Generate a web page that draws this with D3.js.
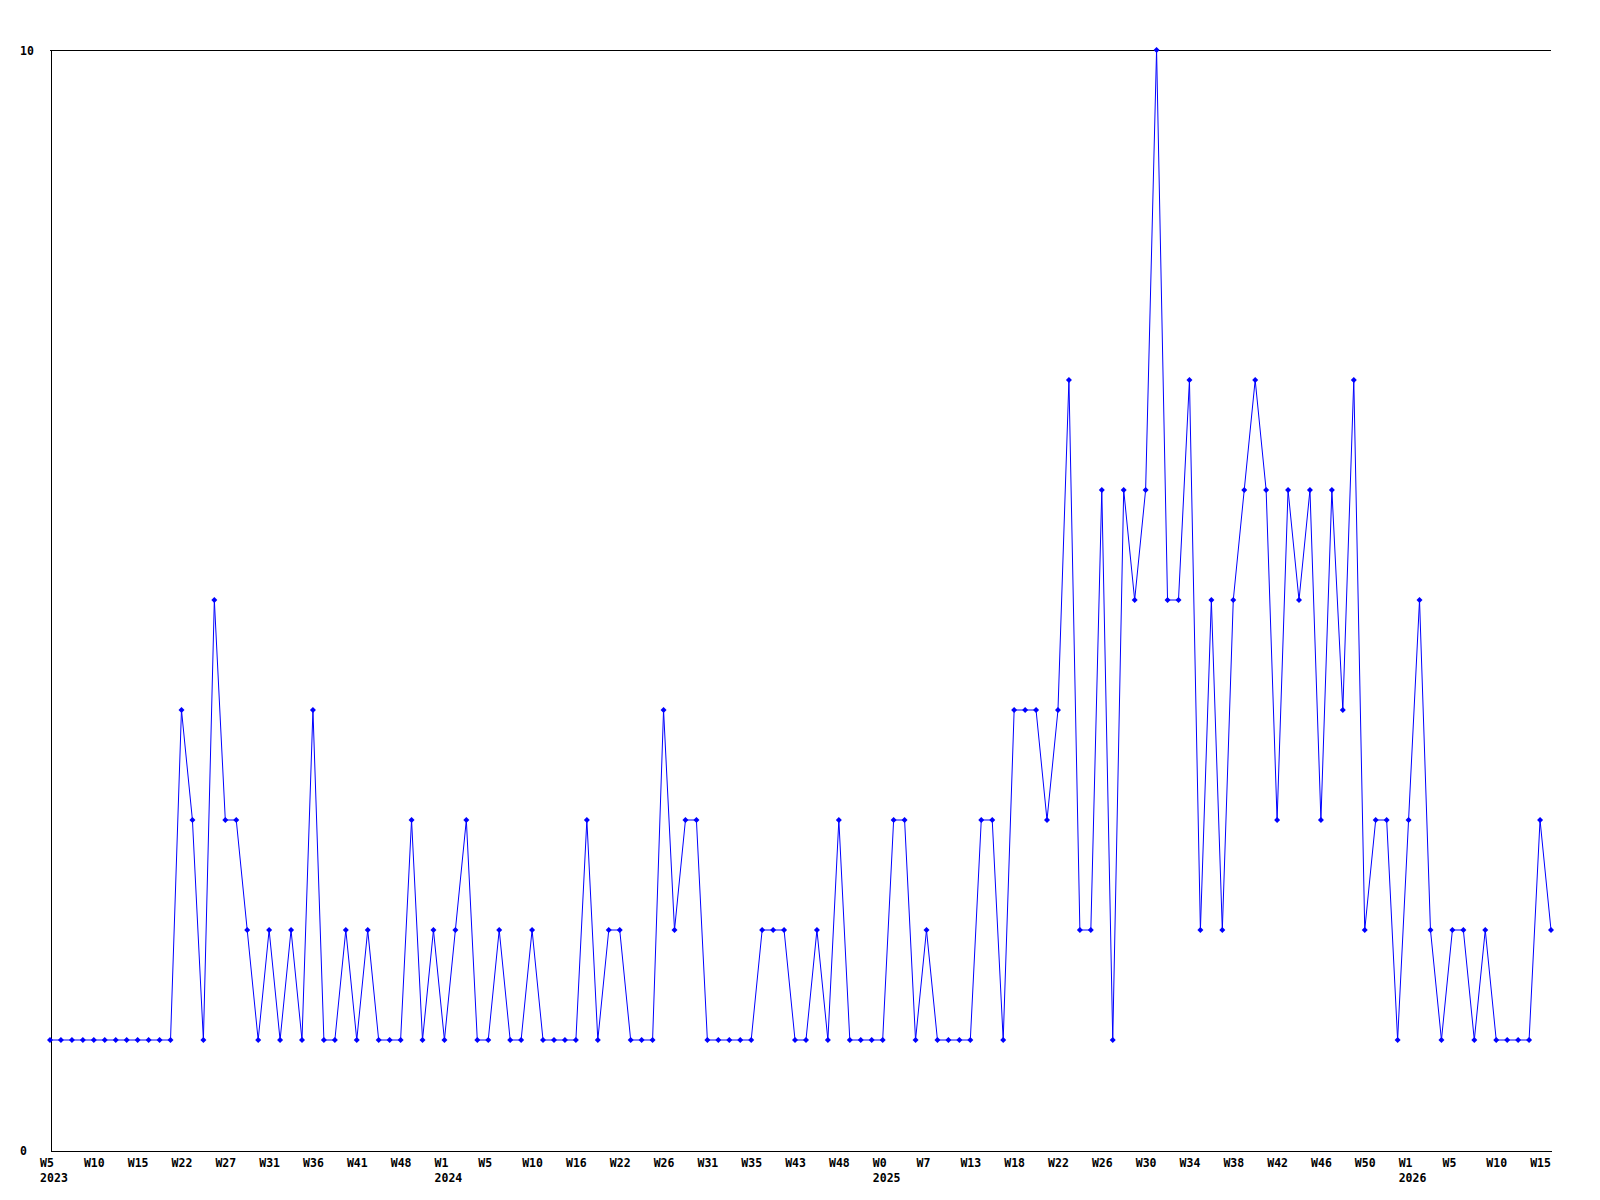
<!DOCTYPE html>
<html><head><meta charset="utf-8">
<script src="https://cdn.jsdelivr.net/npm/d3@7"></script>
<style>body{margin:0;background:#fff} svg{display:block}</style>
</head><body>
<svg id="chart" width="1600" height="1200"></svg>
<script>
// weekly values, one per point (138 points)
const values = [
  1,1,1,1,1,1,1,1,1,1,1,1,
  4,3,1,5,3,3,2,1,2,1,2,1,
  4,1,1,2,1,2,1,1,1,3,1,2,
  1,2,3,1,1,2,1,1,2,1,1,1,
  1,3,1,2,2,1,1,1,4,2,3,3,
  1,1,1,1,1,2,2,2,1,1,2,1,
  3,1,1,1,1,3,3,1,2,1,1,1,
  1,3,3,1,4,4,4,3,4,7,2,2,
  6,1,6,5,6,10,5,5,7,2,5,2,
  5,6,7,6,3,6,5,6,3,6,4,7,
  2,3,3,1,3,5,2,1,2,2,1,2,
  1,1,1,1,3,2
];
// labels shown on every 4th point
const tickLabels = ["W5","W10","W15","W22","W27","W31","W36","W41","W48","W1","W5","W10","W16","W22","W26","W31","W35","W43","W48","W0","W7","W13","W18","W22","W26","W30","W34","W38","W42","W46","W50","W1","W5","W10","W15"];
const labelStep = 4;
const yearTickIndex = [0, 9, 19, 31];
const yearLabels = ["2023","2024","2025","2026"];
const yTicks = [0, 10];

(function () {
const svg = d3.select("#chart");
const mLeft = 50, mRight = 1551, mTop = 50, mBottom = 1150;
const FONT = "'DejaVu Sans Mono', monospace";

const x = d3.scaleLinear().domain([0, values.length - 1]).range([mLeft, mRight]);
const y = d3.scaleLinear().domain([0, 10]).range([mBottom, mTop]);

// grid line at top tick
svg.append("g").selectAll("line").data(yTicks.filter(t => t > 0)).join("line")
  .attr("x1", mLeft).attr("x2", mRight)
  .attr("y1", d => y(d) + 0.5).attr("y2", d => y(d) + 0.5)
  .attr("stroke", "#000").attr("stroke-width", 1).attr("shape-rendering", "crispEdges");

// x axis
const tickIdx = d3.range(0, values.length, labelStep).slice(0, tickLabels.length);
const xAxis = d3.axisBottom(x).tickValues(tickIdx).tickSize(0).tickSizeOuter(0)
  .tickFormat((d, i) => tickLabels[i]);
const gx = svg.append("g").attr("transform", `translate(0,${mBottom + 0.5})`).call(xAxis);
gx.select(".domain").attr("stroke", "#000").attr("shape-rendering", "crispEdges");
gx.selectAll("text")
  .attr("font-family", FONT).attr("font-size", "11.5px").attr("font-weight", "bold")
  .attr("fill", "#000");

// measure a 3-char cell width for alignment
const probe = svg.append("text").attr("font-family", FONT).attr("font-size", "11.5px")
  .attr("font-weight", "bold").text("W00");
const cellW = probe.node().getComputedTextLength();
probe.remove();

gx.selectAll(".tick text").each(function(d, i) {
  const t = d3.select(this);
  t.attr("text-anchor", "start").attr("x", -cellW / 2).attr("y", 16).attr("dy", null);
  const yi = yearTickIndex.indexOf(i);
  t.text(null);
  t.append("tspan").attr("x", -cellW / 2).attr("y", 16).text(tickLabels[i]);
  if (yi >= 0) {
    t.append("tspan").attr("x", -cellW / 2).attr("y", 31).text(yearLabels[yi]);
  }
});

// y axis
const yAxis = d3.axisLeft(y).tickValues(yTicks).tickSize(0).tickSizeOuter(0).tickFormat(d3.format("d"));
const gy = svg.append("g").attr("transform", `translate(${mLeft + 0.5},0)`).call(yAxis);
gy.select(".domain").attr("stroke", "#000").attr("shape-rendering", "crispEdges");
gy.selectAll("text")
  .attr("font-family", FONT).attr("font-size", "11.5px").attr("font-weight", "bold")
  .attr("fill", "#000").attr("text-anchor", "start").attr("x", 20 - mLeft - 0.5).attr("dy", "0.36em");

// line
const line = d3.line().x((d, i) => x(i)).y(d => y(d));
svg.append("path").datum(values)
  .attr("d", line).attr("fill", "none").attr("stroke", "#0000ff").attr("stroke-width", 1);

// markers
svg.append("g").selectAll("path").data(values).join("path")
  .attr("transform", (d, i) => `translate(${x(i)},${y(d)})`)
  .attr("d", "M0,-3L3,0L0,3L-3,0Z")
  .attr("fill", "#0000ff");
})();
</script>
</body></html>
